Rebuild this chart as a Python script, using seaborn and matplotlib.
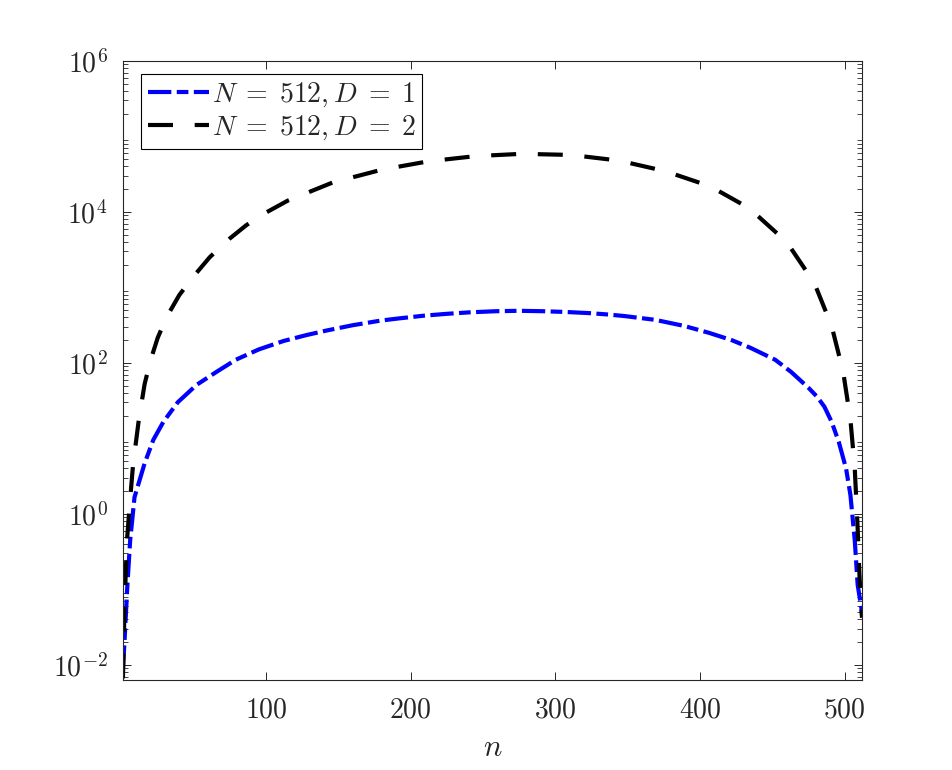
import numpy as np
import pandas as pd
import matplotlib
matplotlib.use("Agg")
import matplotlib.pyplot as plt
import seaborn as sns
from matplotlib.ticker import FixedLocator, FixedFormatter, LogLocator, NullFormatter

# ---- data ----
n_d1 = [1, 2, 4, 6, 9, 16, 22, 29, 39, 52, 66, 79, 95, 112, 128, 142, 160, 179,
        192, 209, 225, 241, 259, 275, 291, 307, 323, 337, 348, 369, 389, 406, 422,
        435, 452, 463, 475, 481, 486, 491, 496, 501, 504, 507, 509, 512]
val_d1 = [0.0089, 0.019, 0.107, 0.447, 1.66, 4.68, 9.55, 16.6, 30.2, 51.3, 76.7,
          110, 151, 195, 234, 269, 316, 363, 389, 422, 447, 468, 484, 490, 484,
          473, 457, 437, 417, 372, 309, 251, 200, 158, 110, 75.9, 46.8, 35.5,
          26.3, 16.6, 8.91, 3.98, 1.78, 0.447, 0.115, 0.050]

n_d2 = [1, 2, 3, 4, 6, 8, 12, 16, 20, 25, 31, 40, 50, 61, 75, 86, 95, 115, 146,
        180, 212, 245, 277, 311, 344, 376, 407, 434, 460, 479, 491, 499, 504,
        507, 509, 510, 511, 512]
val_d2 = [0.0066, 0.050, 0.178, 0.50, 1.58, 4.47, 17.8, 52.5, 107, 214, 398, 794,
          1413, 2512, 4467, 6607, 8710, 14125, 24547, 36308, 46774, 54954, 58884,
          56885, 47863, 34674, 21878, 11220, 3981, 1148, 309, 75.9, 17.8, 3.98,
          0.646, 0.20, 0.079, 0.042]

labels = [r"$N\;=\;512, D\;=\;1$", r"$N\;=\;512, D\;=\;2$"]
xtick_vals = [100, 200, 300, 400, 500]
xtick_labels = [r"$100$", r"$200$", r"$300$", r"$400$", r"$500$"]
ytick_vals = [1e-2, 1e0, 1e2, 1e4, 1e6]
ytick_labels = [r"$10^{-2}$", r"$10^{0}$", r"$10^{2}$", r"$10^{4}$", r"$10^{6}$"]
xlabel = r"$n$"

# ---- style ----
sns.set_style("ticks")
plt.rcParams["mathtext.fontset"] = "cm"
plt.rcParams["font.family"] = ["DejaVu Serif"]

fig = plt.figure(figsize=(9.53, 7.70), dpi=100)
fig.patch.set_facecolor("white")
ax = fig.add_axes([0.129, 0.117, 0.7755, 0.8038])

df1 = pd.DataFrame({"n": n_d1, "v": val_d1})
df2 = pd.DataFrame({"n": n_d2, "v": val_d2})

sns.lineplot(data=df1, x="n", y="v", ax=ax, color="#0000ff", linewidth=3.0,
             label=labels[0], sort=True, estimator=None)
l1 = ax.lines[-1]
l1.set_dashes([5.6, 1.3, 2.8, 1.3])
l1.set_dash_capstyle("butt")

sns.lineplot(data=df2, x="n", y="v", ax=ax, color="black", linewidth=3.0,
             label=labels[1], sort=True, estimator=None)
l2 = ax.lines[-1]
l2.set_dashes([6.0, 5.2])
l2.set_dash_capstyle("butt")

ax.set_yscale("log")
ax.set_xlim(1, 512)
ax.set_ylim(10 ** -2.2, 1e6)

ax.xaxis.set_major_locator(FixedLocator(xtick_vals))
ax.xaxis.set_major_formatter(FixedFormatter(xtick_labels))
ax.yaxis.set_major_locator(FixedLocator(ytick_vals))
ax.yaxis.set_major_formatter(FixedFormatter(ytick_labels))
ax.yaxis.set_minor_locator(LogLocator(base=10, subs=np.arange(2, 10), numticks=50))
ax.yaxis.set_minor_formatter(NullFormatter())

ax.tick_params(axis="both", which="major", direction="in", length=6, width=0.7,
               top=True, right=True, labelsize=20, colors="#262626")
ax.tick_params(axis="x", which="major", pad=12)
ax.tick_params(axis="y", which="major", pad=11)
ax.tick_params(axis="y", which="minor", direction="in", length=3.5, width=0.6,
               left=True, right=True)
ax.tick_params(axis="x", which="minor", bottom=False, top=False)

for s in ax.spines.values():
    s.set_visible(True)
    s.set_linewidth(0.8)
    s.set_color("#262626")

ax.set_xlabel(xlabel, fontsize=22, labelpad=6, color="#262626")
ax.set_ylabel("")
ax.grid(False)

leg = ax.legend(loc="upper left", bbox_to_anchor=(0.024, 0.979), borderaxespad=0,
                fontsize=20, handlelength=2.2, handletextpad=0.1, labelspacing=0.15,
                borderpad=0.25, fancybox=False, framealpha=1, edgecolor="black")
leg.get_frame().set_linewidth(0.8)

fig.savefig("out.png", dpi=100, facecolor="white")
